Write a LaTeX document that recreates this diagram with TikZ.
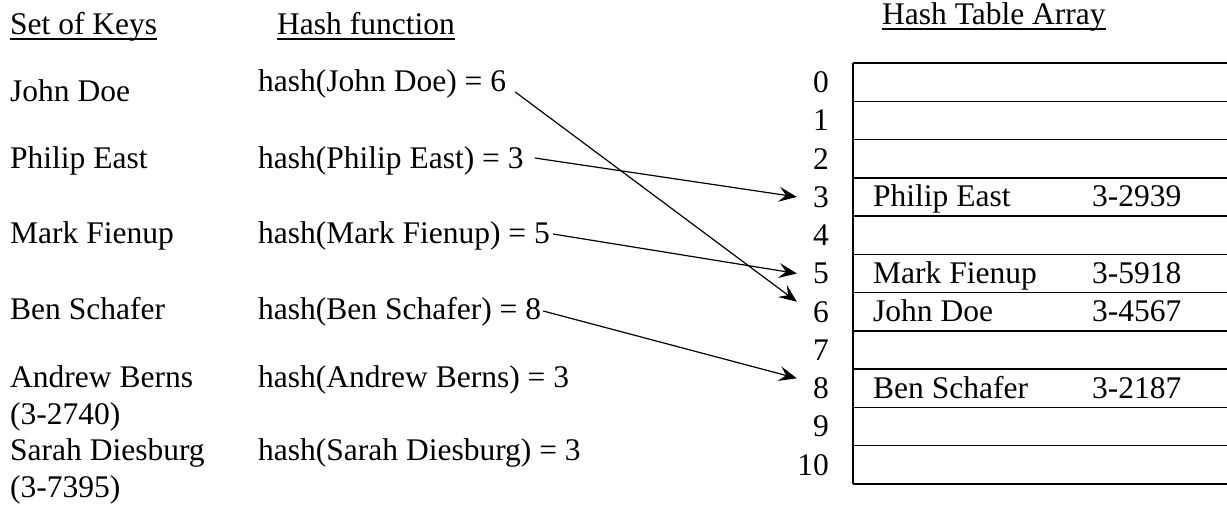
\documentclass[tikz,border=0pt]{standalone}
\usepackage{fontspec}
\setmainfont{Liberation Serif}
\usetikzlibrary{arrows.meta,calc}
\begin{document}
\begin{tikzpicture}[x=1pt,y=-1pt,
  txt/.style={inner sep=0pt,anchor=base west,font=\fontsize{31.5}{36}\selectfont},
  idx/.style={inner sep=0pt,anchor=east,font=\fontsize{31.5}{36}\selectfont},
  ul/.style={line width=2pt},
  gridline/.style={line width=1.4pt},
  link/.style={line width=1.2pt,-{Stealth[length=18pt,width=15pt,inset=7pt]}}]
\useasboundingbox (0,0) rectangle (1227,510);
\clip (0,0) rectangle (1227,510);
% headers
\node[txt] (hk) at (10,35) {Set of Keys};
\node[txt] (hf) at (277,35) {Hash function};
\node[txt] (ht) at (882,25) {Hash Table Array};
\draw[ul] ($(hk.base west)+(0,4)$) -- ($(hk.base east)+(0,4)$);
\draw[ul] ($(hf.base west)+(0,4)$) -- ($(hf.base east)+(0,4)$);
\draw[ul] ($(ht.base west)+(0,4)$) -- ($(ht.base east)+(0,4)$);
% keys
\node[txt] (k1) at (10,102) {John Doe};
\node[txt] (k2) at (10,169) {Philip East};
\node[txt] (k3) at (10,244) {Mark Fienup};
\node[txt] (k4) at (10,320) {Ben Schafer};
\node[txt] (k5) at (10,388) {Andrew Berns};
\node[txt] (k5b) at (10,425) {(3-2740)};
\node[txt] (k6) at (10,461) {Sarah Diesburg};
\node[txt] (k6b) at (10,498) {(3-7395)};
% hash function
\node[txt] (h1) at (258,92) {hash(John Doe) = 6};
\node[txt] (h2) at (258,169) {hash(Philip East) = 3};
\node[txt] (h3) at (258,244) {hash(Mark Fienup) = 5};
\node[txt] (h4) at (258,320) {hash(Ben Schafer) = 8};
\node[txt] (h5) at (258,388) {hash(Andrew Berns) = 3};
\node[txt] (h6) at (258,461) {hash(Sarah Diesburg) = 3};
% table
\foreach \k in {0,...,11}
  \draw[gridline] (853,{63+38.27*\k}) -- (1240,{63+38.27*\k});
\draw[gridline] (853,63) -- (853,{63+38.27*11});
\foreach \i in {0,...,10}
  \node[idx] (i\i) at (829,{63+38.27*\i+19.14}) {\i};
% table contents
\node[txt] (r3a) at (873,{92+38.27*3}) {Philip East};
\node[txt] (r3b) at (1092,{92+38.27*3}) {3-2939};
\node[txt] (r5a) at (873,{92+38.27*5}) {Mark Fienup};
\node[txt] (r5b) at (1092,{92+38.27*5}) {3-5918};
\node[txt] (r6a) at (873,{92+38.27*6}) {John Doe};
\node[txt] (r6b) at (1092,{92+38.27*6}) {3-4567};
\node[txt] (r8a) at (873,{92+38.27*8}) {Ben Schafer};
\node[txt] (r8b) at (1092,{92+38.27*8}) {3-2187};
% arrows
\draw[link] ($(h1.base east)+(9,0)$) -- ($(i6.west)+(-16,-10)$);
\draw[link] ($(h2.base east)+(11,-11)$) -- ($(i3.west)+(-16,0)$);
\draw[link] ($(h3.base east)+(3,-10)$) -- ($(i5.west)+(-16,0)$);
\draw[link] ($(h4.base east)+(2,-9)$) -- ($(i8.west)+(-16,-10)$);
\end{tikzpicture}
\end{document}
